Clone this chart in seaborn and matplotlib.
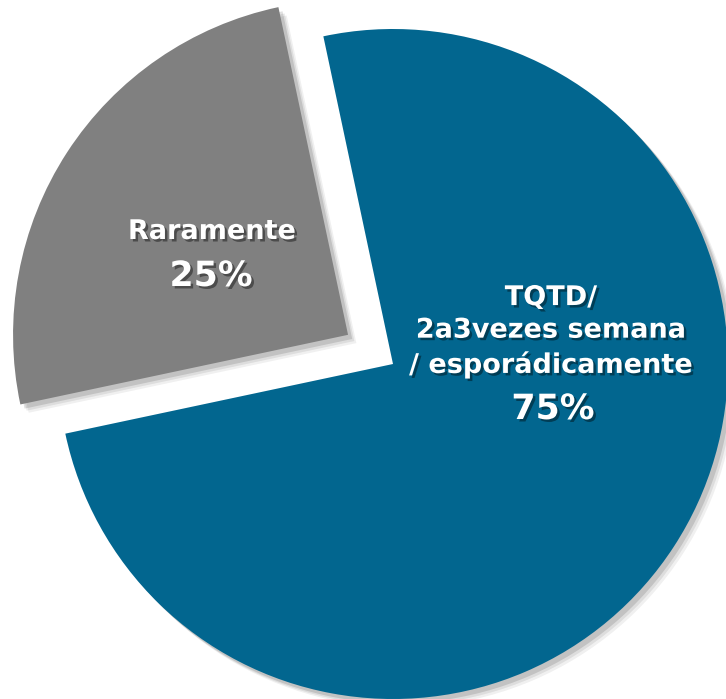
import seaborn as sns
import matplotlib.pyplot as plt
import matplotlib.patheffects as pe
import numpy as np

# data
labels = ["TQTD/\n2a3vezes semana\n/ esporádicamente", "Raramente"]
values = [75, 25]
pct_labels = ["75%", "25%"]
colors = ["#02668F", "#808080"]
explode = [0, 0.16]

sns.set_theme(style="white")
plt.rcParams['font.family'] = ['DejaVu Sans']

fig = plt.figure(figsize=(7.26, 6.99), dpi=100)
ax = fig.add_axes([0, 0, 1, 1])

# soft drop shadow built from a few offset layers
shadow = [pe.SimplePatchShadow(offset=(o, -o), shadow_rgbFace='black', alpha=a)
          for o, a in [(6, 0.06), (4.5, 0.08), (3, 0.12)]] + [pe.Normal()]

wedges, _ = ax.pie(values, colors=colors, explode=explode, startangle=192,
                   counterclock=True, radius=1.0,
                   wedgeprops=dict(linewidth=0))
for w in wedges:
    w.set_path_effects(shadow)

# map pixels: centre at (393, 364) px, radius 335 px
cx, cy, r = 393, 364, 335
ax.set_xlim(-cx / r, (726 - cx) / r)
ax.set_ylim(-(699 - cy) / r, cy / r)
ax.set_aspect('auto')
ax.axis('off')

txt_shadow = [pe.withSimplePatchShadow(offset=(1.8, -1.8), shadow_rgbFace='black', alpha=0.4)]

def px(x, y):
    return (x - cx) / r, (cy - y) / r

# blue slice label
ax.text(*px(551, 332), labels[0], ha='center', va='center', color='white',
        fontsize=19.5, fontweight='bold', linespacing=1.33, path_effects=txt_shadow)
ax.text(*px(553, 409), pct_labels[0], ha='center', va='center', color='white',
        fontsize=25, fontweight='bold', path_effects=txt_shadow)

# gray slice label
ax.text(*px(212, 232), labels[1], ha='center', va='center', color='white',
        fontsize=19.5, fontweight='bold', path_effects=txt_shadow)
ax.text(*px(211, 276), pct_labels[1], ha='center', va='center', color='white',
        fontsize=25, fontweight='bold', path_effects=txt_shadow)

fig.savefig("out.png", dpi=100)
